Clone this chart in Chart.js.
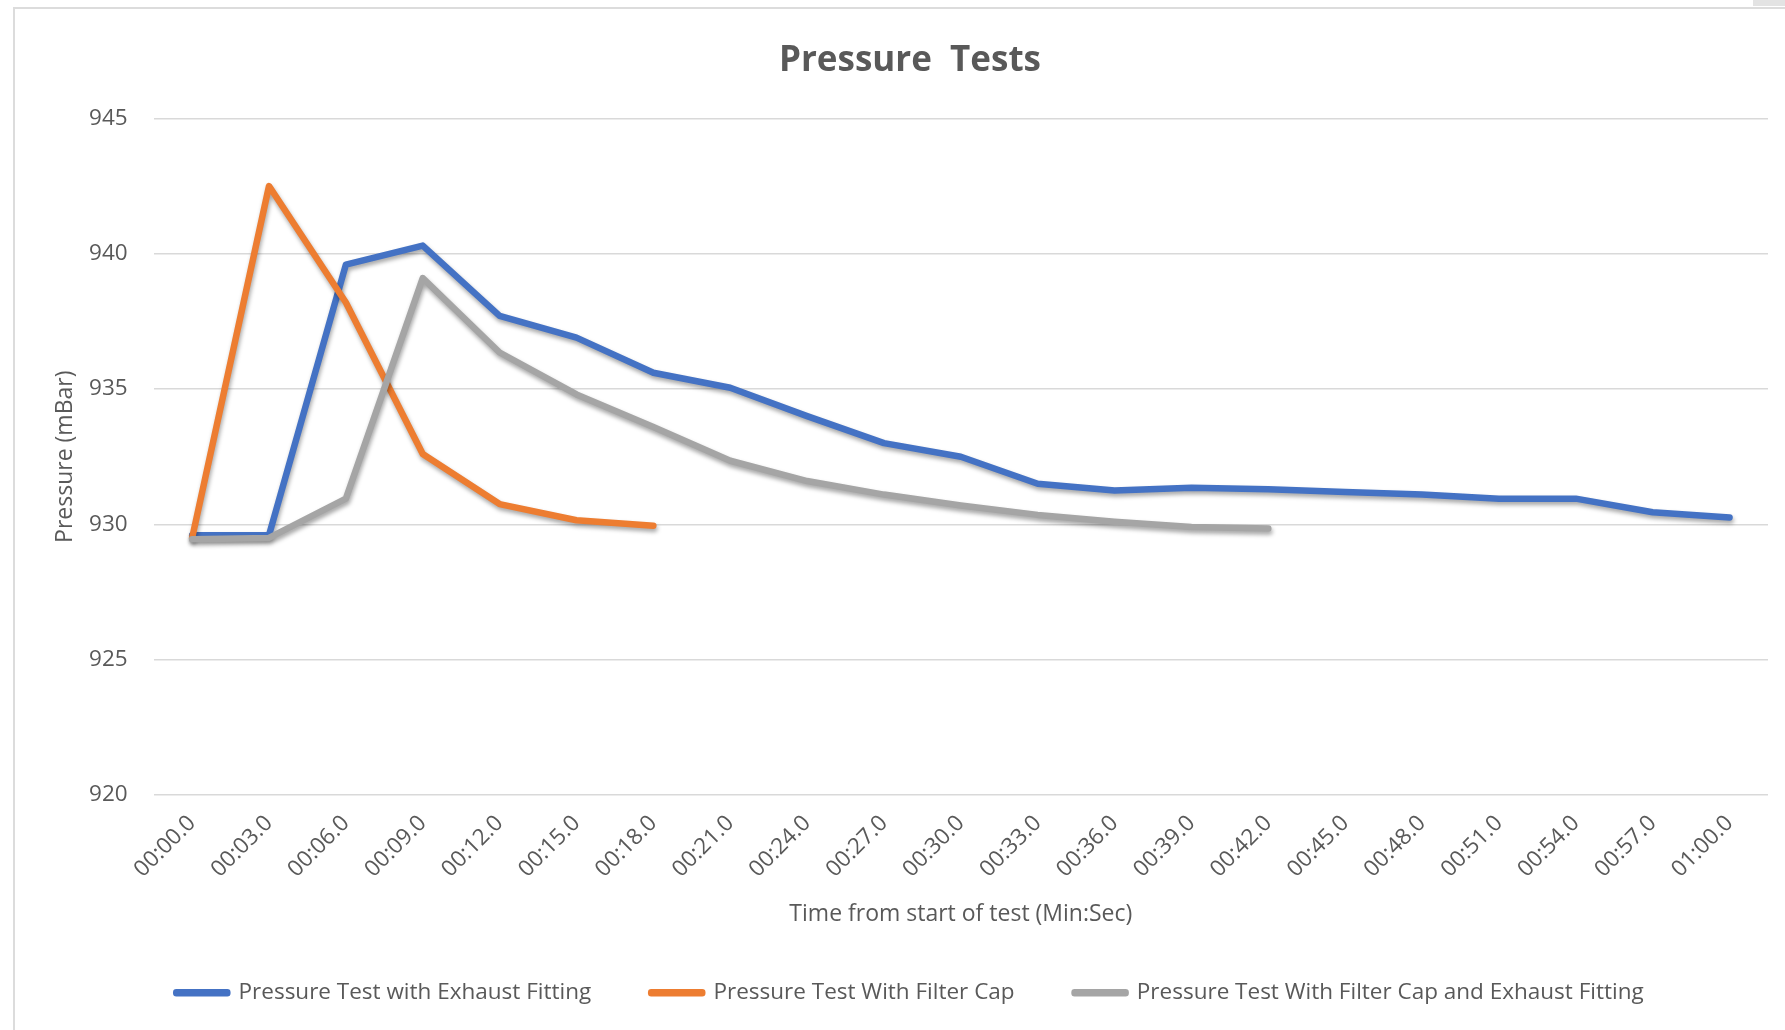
<!DOCTYPE html>
<html>
<head>
<meta charset="utf-8">
<title>Pressure Tests</title>
<script src="https://cdn.jsdelivr.net/npm/chart.js@4.4.0/dist/chart.umd.min.js"></script>
<style>
  html, body { margin: 0; padding: 0; background: #fff; }
  #wrap { position: relative; width: 1785px; height: 1030px; overflow: hidden; }
  #frame { position: absolute; left: 13px; top: 7px; right: -2px; bottom: -2px; border-left: 2px solid #dcdcdc; border-top: 2px solid #dcdcdc; }
  #corner { position: absolute; right: 0; top: 0; width: 32px; height: 6px; background: #e3e3e3; }
  canvas { position: absolute; left: 0; top: 0; }
</style>
</head>
<body>
<div id="wrap">
  <div id="frame"></div>
  <div id="corner"></div>
  <canvas id="pressureChart" width="1785" height="1030"></canvas>
</div>
<script>
// time from start of test (Min:Sec)
const timeLabels = ['00:00.0', '00:03.0', '00:06.0', '00:09.0', '00:12.0', '00:15.0', '00:18.0',
    '00:21.0', '00:24.0', '00:27.0', '00:30.0', '00:33.0', '00:36.0', '00:39.0', '00:42.0',
    '00:45.0', '00:48.0', '00:51.0', '00:54.0', '00:57.0', '01:00.0'];

// pressure in mBar
const exhaustFitting = [929.6, 929.6, 939.6, 940.3, 937.7, 936.9, 935.6, 935.05, 934.0, 933.0, 932.5,
    931.5, 931.25, 931.35, 931.3, 931.2, 931.1, 930.95, 930.95, 930.45, 930.25];
const filterCap = [929.5, 942.5, 938.2, 932.6, 930.75, 930.15, 929.95];
const filterCapAndExhaust = [929.45, 929.5, 930.95, 939.1, 936.35, 934.8, 933.6, 932.35, 931.6,
    931.1, 930.7, 930.35, 930.1, 929.9, 929.85];

const yTicks = [920, 925, 930, 935, 940, 945];

const textColor = '#595959';
const fontFamily = "'Open Sans', sans-serif";

// Excel style soft shadow under the lines
const lineShadow = {
    id: 'lineShadow',
    beforeDatasetsDraw(chart) {
        const ctx = chart.ctx;
        ctx.save();
        ctx.shadowColor = 'rgba(0, 0, 0, 0.35)';
        ctx.shadowBlur = 4;
        ctx.shadowOffsetX = 1;
        ctx.shadowOffsetY = 3;
    },
    afterDatasetsDraw(chart) {
        chart.ctx.restore();
    }
};

function series(label, data, color, order) {
    return {
        label: label,
        data: data,
        borderColor: color,
        backgroundColor: color,
        borderWidth: 6.5,
        borderJoinStyle: 'round',
        borderCapStyle: 'round',
        pointRadius: 0,
        pointHoverRadius: 0,
        tension: 0,
        order: order
    };
}

const ctx = document.getElementById('pressureChart').getContext('2d');
new Chart(ctx, {
    type: 'line',
    data: {
        labels: timeLabels,
        datasets: [
            series('Pressure Test with Exhaust Fitting', exhaustFitting, '#4472C4', 3),
            series('Pressure Test With Filter Cap', filterCap, '#ED7D31', 2),
            series('Pressure Test With Filter Cap and Exhaust Fitting', filterCapAndExhaust, '#A5A5A5', 1)
        ]
    },
    options: {
        responsive: false,
        animation: false,
        layout: {
            padding: { left: 52, right: 17, top: 0, bottom: 16 }
        },
        scales: {
            x: {
                offset: true,
                grid: { display: false, drawTicks: false },
                border: { display: false },
                ticks: {
                    color: textColor,
                    font: { family: fontFamily, size: 22.5 },
                    minRotation: 45,
                    maxRotation: 45,
                    autoSkip: false,
                    padding: 15
                },
                title: {
                    display: true,
                    text: 'Time from start of test (Min:Sec)',
                    color: textColor,
                    font: { family: fontFamily, size: 23, lineHeight: 0.6 },
                    padding: { top: 0, bottom: 0 }
                },
                afterFit(scale) { scale.height = 126.5; }
            },
            y: {
                min: 920,
                max: 945,
                afterBuildTicks(scale) {
                    scale.ticks = yTicks.map(v => ({ value: v }));
                },
                grid: { color: '#d9d9d9', lineWidth: 1.5, drawTicks: false },
                border: { display: false },
                ticks: {
                    color: textColor,
                    font: { family: fontFamily, size: 22.5 },
                    padding: 26
                },
                title: {
                    display: true,
                    text: 'Pressure (mBar)',
                    color: textColor,
                    font: { family: fontFamily, size: 23 },
                    padding: { top: 0, bottom: 0 }
                },
                afterFit(scale) { scale.width = 101.7; }
            }
        },
        plugins: {
            title: {
                display: true,
                text: 'Pressure  Tests',
                color: textColor,
                font: { family: fontFamily, size: 35, weight: 'bold', lineHeight: 1 },
                padding: { top: 43.4, bottom: 40 }
            },
            legend: {
                position: 'bottom',
                maxHeight: 100,
                labels: {
                    color: textColor,
                    font: { family: fontFamily, size: 22.5 },
                    boxWidth: 51,
                    boxHeight: 1,
                    padding: 60,
                    sort: (a, b) => a.datasetIndex - b.datasetIndex
                }
            },
            tooltip: { enabled: false }
        }
    },
    plugins: [lineShadow]
});
</script>
</body>
</html>
